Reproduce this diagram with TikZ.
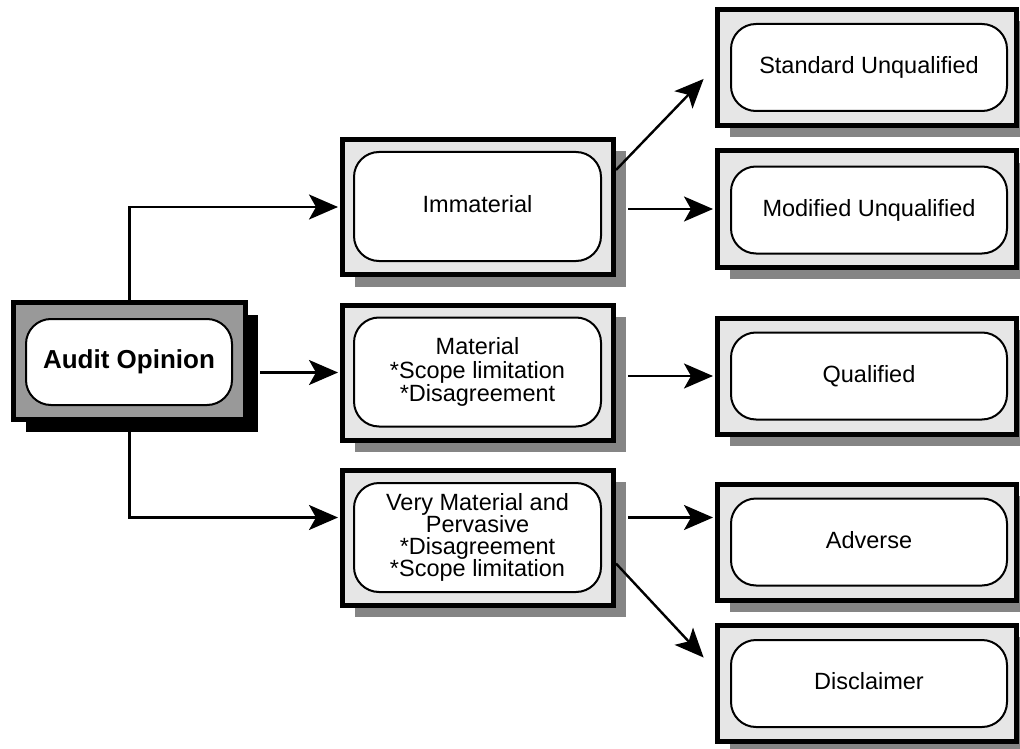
\documentclass[tikz,border=0pt]{standalone}
\usepackage{fontspec}
\setmainfont{Liberation Sans}
\usetikzlibrary{arrows.meta,shadows}

\definecolor{panelgray}{HTML}{E6E6E6}
\definecolor{castgray}{HTML}{858585}
\definecolor{rootgray}{HTML}{999999}

\tikzset{
  basefont/.style={font=\fontsize{23.5}{23.5}\selectfont},
  rootframe/.style={draw=black, line width=5pt, fill=rootgray, inner sep=0pt,
    minimum width=232pt, minimum height=117pt,
    drop shadow={shadow xshift=12pt, shadow yshift=-12pt, fill=black, opacity=1}},
  midframe/.style={draw=black, line width=5pt, fill=panelgray, inner sep=0pt,
    minimum width=271pt, minimum height=135pt,
    drop shadow={shadow xshift=12pt, shadow yshift=-12pt, fill=castgray, opacity=1}},
  endframe/.style={draw=black, line width=5pt, fill=panelgray, inner sep=0pt,
    minimum width=299pt, minimum height=116pt,
    drop shadow={shadow xshift=12pt, shadow yshift=-12pt, fill=castgray, opacity=1}},
  pill/.style={draw=black, line width=2pt, fill=white, rounded corners=25pt,
    align=center, inner sep=0pt, basefont},
  rootpill/.style={pill, minimum width=206pt, minimum height=86pt,
    font=\fontsize{26}{27}\selectfont\bfseries},
  midpill/.style={pill, minimum width=247pt, minimum height=109pt},
  endpill/.style={pill, minimum width=276pt, minimum height=87pt,
    text height=17pt, text depth=5pt},
  link/.style={line width=2.4pt, shorten >=2pt,
    -{Stealth[length=29pt, width=25pt, inset=7pt]}}
}

\begin{document}
\begin{tikzpicture}[x=1pt, y=-1pt]
  \useasboundingbox (0,0) rectangle (1020,749);
  \clip (0,0) rectangle (1020,749);

  % root of the tree
  \node[rootframe] (aud) at (129.5,361) {};
  \node[rootpill] (aud-in) at (129,362) {Audit Opinion};

  % materiality levels
  \node[midframe] (imm) at (478,207) {};
  \node[midpill, text height=17pt, text depth=5pt] (imm-in) at (477.5,206.5) {Immaterial};
  \node[midframe] (mat) at (478,372.5) {};
  \node[midpill] (mat-in) at (477.5,372) {Material\\*Scope limitation\\*Disagreement};
  \node[midframe] (vm) at (478,537.5) {};
  \node[midpill, font=\fontsize{23.5}{22}\selectfont] (vm-in) at (477.5,537.5)
    {Very Material and\\Pervasive\\*Disagreement\\*Scope limitation};

  % resulting opinions
  \node[endframe] (su) at (867,67.5) {};
  \node[endpill] (su-in) at (869,67.5) {Standard Unqualified};
  \node[endframe] (mu) at (867,209) {};
  \node[endpill] (mu-in) at (869,210) {Modified Unqualified};
  \node[endframe] (q) at (867,376) {};
  \node[endpill] (q-in) at (869,376) {Qualified};
  \node[endframe] (ad) at (867,542) {};
  \node[endpill] (ad-in) at (869,542) {Adverse};
  \node[endframe] (dis) at (867,683) {};
  \node[endpill] (dis-in) at (869,683.5) {Disclaimer};

  % connectors
  \draw[link] (aud.north) |- (imm.west);
  \draw[link] ([xshift=12pt]aud.east |- mat.west) -- (mat.west);
  \draw[link] (aud.south) |- ([yshift=20pt]vm.west);

  \draw[link] ([yshift=37pt]imm.east) -- ([xshift=-10pt,yshift=-10pt]su.west);
  \draw[link] ([xshift=12pt]imm.east |- mu.west) -- (mu.west);
  \draw[link] ([xshift=12pt]mat.east |- q.west) -- (q.west);
  \draw[link] ([xshift=12pt,yshift=20pt]vm.east) -- ([yshift=20pt]vm.east -| ad.west);
  \draw[link] ([yshift=-26pt]vm.east) -- ([xshift=-10pt,yshift=24pt]dis.west);
\end{tikzpicture}
\end{document}
